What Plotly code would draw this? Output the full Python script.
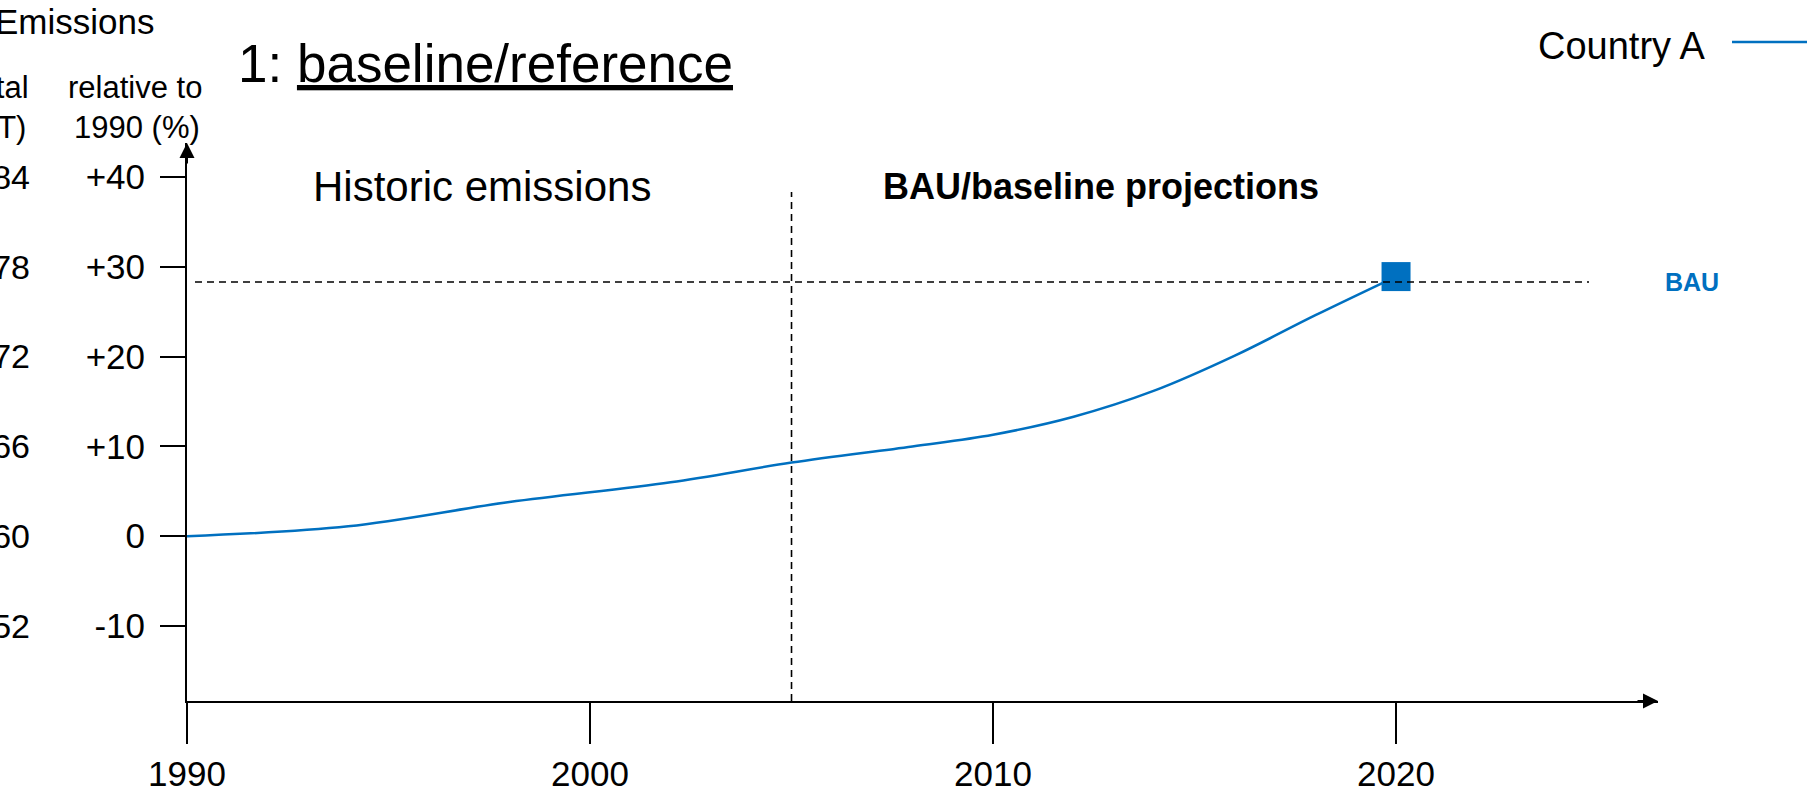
import plotly.graph_objects as go

# ---------------- data ----------------
years = [1990, 1994, 1998, 2002, 2005, 2008, 2010, 2012, 2014, 2016, 2018, 2020]
change_pct = [0.0, 1.1, 3.8, 6.0, 8.2, 10.0, 11.3, 13.3, 16.2, 20.1, 24.6, 28.9]

bau_level = 28.3          # BAU reference line (% vs 1990)
divider_year = 2005       # historic / projection split
x_tick_years = [1990, 2000, 2010, 2020]
y_tick_vals = [-10, 0, 10, 20, 30, 40]
y_tick_text = ["-10", "0", "+10", "+20", "+30", "+40"]
total_tick_text = ["52", "60", "66", "72", "78", "84"]

BLUE = "#0070C0"
FONT = "Arial, Liberation Sans, sans-serif"
W, H = 1809, 795

X_RANGE = [1990, 2026.5]
Y_RANGE = [-18.34, 43.77]

fig = go.Figure()

fig.add_trace(go.Scatter(
    x=years, y=change_pct, mode="lines", line=dict(color=BLUE, width=2.5, shape="spline"),
    name="Country A", showlegend=False, hoverinfo="skip"))
fig.add_trace(go.Scatter(
    x=[years[-1]], y=[change_pct[-1]], mode="markers",
    marker=dict(symbol="square", size=29, color=BLUE), showlegend=False, hoverinfo="skip"))
# helper trace so the secondary (total emissions) axis renders
fig.add_trace(go.Scatter(
    x=[years[0]], y=[change_pct[0]], yaxis="y2", mode="markers",
    marker=dict(opacity=0), showlegend=False, hoverinfo="skip"))

fig.update_layout(
    width=W, height=H,
    margin=dict(l=0, r=0, t=0, b=0),
    paper_bgcolor="white", plot_bgcolor="white",
    font=dict(family=FONT, color="black"),
    xaxis=dict(
        domain=[187 / W, 1658 / W], range=X_RANGE, showgrid=False, zeroline=False,
        showline=True, linecolor="black", linewidth=2,
        tickvals=x_tick_years, ticktext=[str(y) for y in x_tick_years],
        ticks="outside", ticklen=41, tickwidth=1.5, tickcolor="black",
        tickfont=dict(size=35, family=FONT, color="black"),
        ticklabelstandoff=0, automargin=False, fixedrange=True),
    yaxis=dict(
        domain=[(H - 701) / H, (H - 143) / H], range=Y_RANGE, showgrid=False, zeroline=False,
        showline=True, linecolor="black", linewidth=2,
        tickvals=y_tick_vals, ticktext=y_tick_text,
        ticks="outside", ticklen=25, tickwidth=1.5, tickcolor="black",
        tickfont=dict(size=35, family=FONT, color="black"),
        ticklabelstandoff=8, automargin=False, fixedrange=True),
    yaxis2=dict(
        overlaying="y", anchor="free", position=30 / W, side="left",
        range=Y_RANGE, showgrid=False, zeroline=False, showline=False,
        tickvals=y_tick_vals, ticktext=total_tick_text, ticks="",
        tickfont=dict(size=34, family=FONT, color="black"),
        automargin=False, fixedrange=True),
)

# dashed lines
fig.add_shape(type="line", xref="x", yref="y domain", x0=divider_year, x1=divider_year,
              y0=0, y1=(701 - 192) / (701 - 143),
              line=dict(color="black", width=1.6, dash="7px,5px"))
fig.add_shape(type="line", xref="x domain", yref="y", x0=8 / 1471, x1=1402 / 1471,
              y0=bau_level, y1=bau_level,
              line=dict(color="black", width=1.6, dash="7px,5px"))

# axis arrowheads
fig.add_annotation(xref="x domain", yref="y domain", x=0, y=1, ax=0, ay=22, text="",
                   showarrow=True, arrowhead=2, arrowsize=1.5, arrowwidth=2, arrowcolor="black")
fig.add_annotation(xref="x domain", yref="y domain", x=1, y=0, ax=-22, ay=0, text="",
                   showarrow=True, arrowhead=2, arrowsize=1.5, arrowwidth=2, arrowcolor="black")


def txt(text, x, y, size, xanchor="left", color="black"):
    fig.add_annotation(xref="paper", yref="paper", x=x / W, y=1 - y / H, text=text,
                       showarrow=False, xanchor=xanchor, yanchor="middle",
                       font=dict(size=size, family=FONT, color=color))


txt("Emissions", 156, 22, 35, "right")
txt("total", 31, 88, 31, "right")
txt("(MT)", 28, 128, 31, "right")
txt("relative to", 134.5, 88, 31, "center")
txt("1990 (%)", 136.5, 128, 31, "center")
txt("1: <u>baseline/reference</u>", 236, 64, 53, "left")
txt("Historic emissions", 311, 187, 42, "left")
txt("<b>BAU/baseline projections</b>", 881, 187, 36, "left")
txt("Country A", 1708, 46, 38, "right")
fig.add_annotation(xref="paper", yref="y", x=1692 / W, y=bau_level, text="<b>BAU</b>",
                   showarrow=False, xanchor="center", yanchor="middle",
                   font=dict(size=25, family=FONT, color=BLUE))

# legend sample line
fig.add_shape(type="line", xref="paper", yref="paper", x0=1732 / W, x1=1807 / W,
              y0=1 - 42 / H, y1=1 - 42 / H, line=dict(color=BLUE, width=2.5))

fig.write_html("out.html", config={"displayModeBar": False},
               post_script="document.body.style.margin='0';document.body.style.overflow='hidden';")
